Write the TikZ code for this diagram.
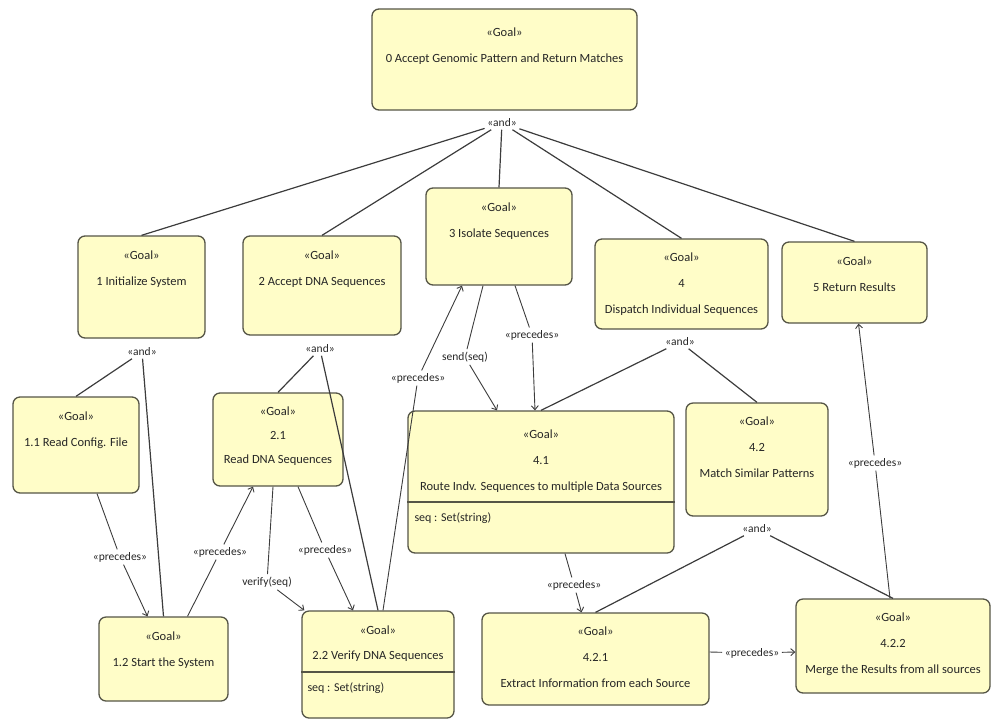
\documentclass[tikz,border=0pt]{standalone}
\usepackage{fontspec}
\setmainfont{Carlito}
\usetikzlibrary{arrows.meta}

\definecolor{goalfill}{RGB}{255,253,200}
\definecolor{goalline}{RGB}{85,85,70}
\definecolor{wire}{RGB}{60,60,60}

\tikzset{
  goal/.style={draw=goalline, fill=goalfill, line width=1.3pt, rounded corners=7pt, inner sep=0pt},
  intext/.style={anchor=north, align=center, inner sep=0pt, text=black!85, font=\fontsize{12.5}{26}\selectfont},
  attr/.style={anchor=west, inner sep=0pt, text=black!85, font=\fontsize{12}{14}\selectfont},
  lbl/.style={inner sep=2.5pt, text=black!85, font=\fontsize{11.5}{13}\selectfont},
  andline/.style={draw=wire, line width=1.2pt},
  prec/.style={draw=wire, line width=0.9pt, ->},
}

\begin{document}
\begin{tikzpicture}[x=1pt,y=-1pt,>={Straight Barb[length=4pt,width=7pt]}]
  \useasboundingbox (0,0) rectangle (992,721);

  % goals
  \node[goal, minimum width=265pt, minimum height=101pt] (g0) at (504.5,59.5) {};
  \node[goal, minimum width=127pt, minimum height=102pt] (g1) at (141.5,287) {};
  \node[goal, minimum width=158pt, minimum height=99pt] (g2) at (322,285.5) {};
  \node[goal, minimum width=146pt, minimum height=97pt] (g3) at (499,236.5) {};
  \node[goal, minimum width=173pt, minimum height=90pt] (g4) at (681.5,284) {};
  \node[goal, minimum width=145pt, minimum height=81pt] (g5) at (854.5,282.5) {};
  \node[goal, minimum width=126pt, minimum height=96pt] (g11) at (76,445) {};
  \node[goal, minimum width=130pt, minimum height=93pt] (g21) at (278,439.5) {};
  \node[goal, minimum width=266pt, minimum height=142pt] (g41) at (541,482) {};
  \node[goal, minimum width=142pt, minimum height=113pt] (g42) at (757,459.5) {};
  \node[goal, minimum width=129pt, minimum height=84pt] (g12) at (163.5,659) {};
  \node[goal, minimum width=152pt, minimum height=107pt] (g22) at (378,664.5) {};
  \node[goal, minimum width=227pt, minimum height=92pt] (g421) at (595.5,659) {};
  \node[goal, minimum width=194pt, minimum height=94pt] (g422) at (893,646) {};

  % compartments
  \draw[draw=goalline, line width=1.3pt] ([yshift=-20pt]g41.west) -- ([yshift=-20pt]g41.east);
  \draw[draw=goalline, line width=1.3pt] ([yshift=-7.5pt]g22.west) -- ([yshift=-7.5pt]g22.east);

  % goal texts
  \node[intext] (t0) at ([yshift=-19pt]g0.north) {«Goal»\\0 Accept Genomic Pattern and Return Matches};
  \node[intext] (t1) at ([yshift=-15pt]g1.north) {«Goal»\\1 Initialize System};
  \node[intext] (t2) at ([yshift=-15pt]g2.north) {«Goal»\\2 Accept DNA Sequences};
  \node[intext] (t3) at ([yshift=-15pt]g3.north) {«Goal»\\3 Isolate Sequences};
  \node[intext] (t4) at ([yshift=-14pt]g4.north) {«Goal»\\4\\Dispatch Individual Sequences};
  \node[intext] (t5) at ([yshift=-15pt]g5.north) {«Goal»\\5 Return Results};
  \node[intext] (t11) at ([yshift=-15pt]g11.north) {«Goal»\\1.1 Read Config. File};
  \node[intext, font=\fontsize{12.5}{24}\selectfont] (t21) at ([yshift=-14pt]g21.north) {«Goal»\\2.1\\Read DNA Sequences};
  \node[intext] (t41) at ([yshift=-19pt]g41.north) {«Goal»\\4.1\\Route Indv. Sequences to multiple Data Sources};
  \node[intext] (t42) at ([yshift=-14pt]g42.north) {«Goal»\\4.2\\Match Similar Patterns};
  \node[intext] (t12) at ([yshift=-15pt]g12.north) {«Goal»\\1.2 Start the System};
  \node[intext, font=\fontsize{12.5}{25}\selectfont] (t22) at ([yshift=-15pt]g22.north) {«Goal»\\2.2 Verify DNA Sequences};
  \node[intext] (t421) at ([yshift=-14pt]g421.north) {«Goal»\\4.2.1\\Extract Information from each Source};
  \node[intext] (t422) at ([yshift=-14pt]g422.north) {«Goal»\\4.2.2\\Merge the Results from all sources};

  \node[attr] (a41) at ([xshift=7pt,yshift=-36pt]g41.west) {seq : Set(string)};
  \node[attr] (a22) at ([xshift=6pt,yshift=-23.5pt]g22.west) {seq : Set(string)};

  % and refinements
  \node[lbl] (and0) at (502,123) {«and»};
  \node[lbl] (and1) at (142,352) {«and»};
  \node[lbl] (and2) at (320,349) {«and»};
  \node[lbl] (and4) at (680,342) {«and»};
  \node[lbl] (and42) at (757,529) {«and»};

  \foreach \c in {g1,g2,g3,g4,g5}
    \draw[andline] (and0) -- (\c.north);
  \draw[andline] (and1) -- (g11.north);
  \draw[andline] (and1) -- (g12.north);
  \draw[andline] (and2) -- (g21.north);
  \draw[andline] (and2) -- (g22.north);
  \draw[andline] (and4) -- (g41.north);
  \draw[andline] (and4) -- (g42.north);
  \draw[andline] (and42) -- (g421.north);
  \draw[andline] (and42) -- (g422.north);

  % precedence and messages
  \node[lbl] (p1) at (120,557) {«precedes»};
  \node[lbl] (p2) at (220,552) {«precedes»};
  \node[lbl] (p3) at (325,550) {«precedes»};
  \node[lbl] (v1) at (267,582) {verify(seq)};
  \node[lbl] (p4) at (418,378) {«precedes»};
  \node[lbl] (s1) at (465,357) {send(seq)};
  \node[lbl] (p5) at (532,335) {«precedes»};
  \node[lbl] (p6) at (574,585) {«precedes»};
  \node[lbl] (p7) at (752,653) {«precedes»};
  \node[lbl] (p8) at (875,463) {«precedes»};

  \draw[prec] ([xshift=21pt]g11.south) -- (p1) -- ([xshift=-16pt]g12.north);
  \draw[prec] ([xshift=24pt]g12.north) -- (p2) -- ([xshift=-25pt]g21.south);
  \draw[prec] ([xshift=20pt]g21.south) -- (p3) -- ([xshift=-25pt]g22.north);
  \draw[prec] ([xshift=-5pt]g21.south) -- (v1) -- ([xshift=3pt]g22.north west);
  \draw[prec] ([xshift=5pt]g22.north) -- (p4) -- ([xshift=-37pt]g3.south);
  \draw[prec] ([xshift=-16pt]g3.south) -- (s1) -- ([xshift=-44pt]g41.north);
  \draw[prec] ([xshift=16pt]g3.south) -- (p5) -- ([xshift=-6pt]g41.north);
  \draw[prec] ([xshift=24pt]g41.south) -- (p6) -- ([xshift=-14pt]g421.north);
  \draw[prec] ([yshift=7pt]g421.east) -- (p7) -- ([yshift=-6pt]g422.west);
  \draw[prec] ([xshift=-3pt]g422.north) -- (p8) -- ([xshift=4pt]g5.south);
\end{tikzpicture}
\end{document}
